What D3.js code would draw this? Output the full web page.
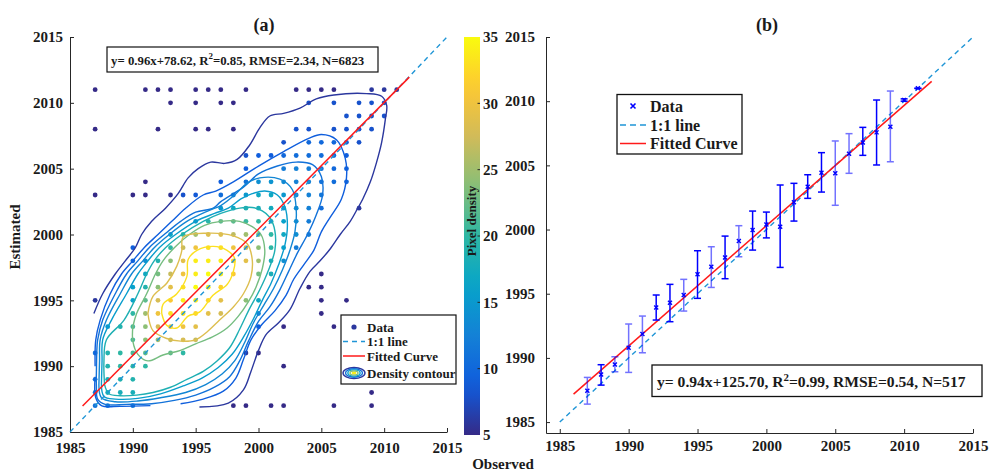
<!DOCTYPE html>
<html><head><meta charset="utf-8">
<script src="https://cdn.jsdelivr.net/npm/d3@7"></script>
<style>
body{margin:0;background:#fff}
svg text{font-family:"Liberation Serif","Times New Roman",serif;font-weight:bold;fill:#1a1a1a}
</style></head><body>
<svg id="chart" width="990" height="473"></svg>
<script>
// ---- data ----
const yearTicks = [1985, 1990, 1995, 2000, 2005, 2010, 2015];
const densityTicks = [5, 10, 15, 20, 25, 30, 35];

// (a) pixel pairs binned at whole years: [observed, estimated, pixel density]
const pixelPoints = [
  [1987,2011,5],[1991,2011,5],[1992,2011,5],[1993,2011,5],[1995,2011,5],[1996,2011,5],[1997,2011,5],[1999,2011,5],[2003,2011,5],[2004,2011,5],[2005,2011,5],[2006,2011,5],[2009,2011,6],[2010,2011,6],[2011,2011,6],
  [1993,2010,5],[1995,2010,5],[1997,2010,5],[1998,2010,5],[2004,2010,8],[2006,2010,8],[2008,2010,8],[2009,2010,8],[2010,2010,8],
  [2007,2009,8],[2008,2009,8],[2009,2009,8],[2010,2009,8],
  [1987,2008,5],[1992,2008,5],[1995,2008,5],[1996,2008,5],[1998,2008,5],[2003,2008,8],[2004,2008,8],[2006,2008,8],[2007,2008,8],[2008,2008,8],[2009,2008,8],
  [2002,2007,8],[2004,2007,10],[2005,2007,10],[2006,2007,10],[2007,2007,9],[2008,2007,8],
  [1999,2006,8],[2000,2006,9],[2001,2006,9],[2002,2006,10],[2003,2006,10.5],[2004,2006,10.5],[2005,2006,10.5],[2006,2006,10],[2007,2006,9],
  [1999,2005,9],[2002,2005,12],[2003,2005,12.5],[2004,2005,12],[2005,2005,11],[2006,2005,10],[2007,2005,9.5],
  [1991,2004,5],[1997,2004,9],[1999,2004,11],[2000,2004,14],[2001,2004,14.5],[2002,2004,13.5],[2003,2004,12.5],[2004,2004,12.5],[2005,2004,11],[2006,2004,10.5],[2007,2004,10],
  [1987,2003,5],[1990,2003,5],[1991,2003,5],[1993,2003,5.5],[1994,2003,8],[1995,2003,8.5],[1997,2003,10.5],[1998,2003,12.5],[1999,2003,15],[2000,2003,17],[2001,2003,17],[2002,2003,15],[2003,2003,13],[2004,2003,12.5],[2005,2003,11.5],
  [1997,2002,15],[1998,2002,17],[1999,2002,18.5],[2000,2002,18],[2001,2002,17.5],[2002,2002,16],[2003,2002,14],[2004,2002,12.5],[2005,2002,10.5],[2008,2002,6],
  [1995,2001,15],[1996,2001,19.5],[1997,2001,22],[1998,2001,22],[1999,2001,20.5],[2000,2001,20],[2001,2001,18.5],[2002,2001,16],[2003,2001,14],[2004,2001,12],
  [1993,2000,17],[1994,2000,20],[1995,2000,25],[1996,2000,28.5],[1997,2000,28.5],[1998,2000,26.5],[1999,2000,25],[2000,2000,23],[2001,2000,20],[2002,2000,17],[2003,2000,14],[2004,2000,12],
  [1990,1999,9],[1993,1999,20],[1994,1999,27],[1995,1999,30],[1996,1999,33],[1997,1999,33],[1998,1999,30],[1999,1999,27],[2000,1999,24],[2001,1999,20],[2002,1999,16],[2003,1999,12],
  [1990,1998,10],[1991,1998,14],[1992,1998,19],[1993,1998,24],[1994,1998,29],[1995,1998,34],[1996,1998,34],[1997,1998,34],[1998,1998,32],[1999,1998,29],[2000,1998,25],[2001,1998,18],[2002,1998,14],
  [1991,1997,17],[1992,1997,23],[1993,1997,27],[1994,1997,30],[1995,1997,34],[1996,1997,35],[1997,1997,34],[1998,1997,31],[2000,1997,23],[2001,1997,18],[2005,1997,5],
  [1990,1996,16],[1991,1996,19],[1992,1996,24],[1993,1996,29],[1994,1996,33],[1995,1996,35],[1996,1996,34],[1997,1996,32],[2004,1996,5],[2005,1996,5],
  [1987,1995,6],[1990,1995,16],[1991,1995,22],[1992,1995,28],[1993,1995,31],[1994,1995,34],[1995,1995,34],[1996,1995,32],[1997,1995,29],[1999,1995,24],[2000,1995,17],[2005,1995,5],[2007,1995,5],
  [1990,1994,20],[1991,1994,25],[1992,1994,30],[1993,1994,33],[1994,1994,33],[1995,1994,32],[1996,1994,29],[1997,1994,28],[2000,1994,13],[2005,1994,5],
  [1988,1993,15],[1989,1993,19],[1990,1993,21],[1991,1993,24],[1992,1993,28],[1993,1993,31],[1994,1993,30],[1995,1993,29],[2000,1993,9],[2002,1993,5],[2006,1993,5],
  [1990,1992,21],[1991,1992,24],[1992,1992,25],[1993,1992,27],[1994,1992,28],[1995,1992,27],
  [1987,1991,11],[1988,1991,19],[1989,1991,20],[1990,1991,21],[1991,1991,22],[1993,1991,22],[1994,1991,20],[1999,1991,6],[2000,1991,5],
  [1988,1990,19],[1989,1990,20],[1990,1990,20],[1991,1990,20],[2002,1990,5],
  [1987,1989,11],[1988,1989,18],[1989,1989,19],[1990,1989,19],
  [1987,1988,12],[1988,1988,18],[1989,1988,18],[1990,1988,18],[2009,1988,5],
  [1987,1987,11],[1988,1987,12],[1990,1987,12],[1998,1987,5],[1999,1987,5],[2001,1987,5],[2002,1987,5],[2006,1987,5],[2009,1987,5]
];

// density contour levels and their traced lines (each level: list of segments of [observed, estimated])
const contourLevels = [6, 9, 11, 13, 15.5, 18.5, 23, 28.5, 33];
const contourLines = [
  [[[1986.9,1994.0],[1987.6,1995.5],[1988.6,1997.0],[1989.4,1998.0],[1990.2,1999.0],[1990.7,2000.0],[1991.5,2001.0],[1992.6,2002.0],[1993.6,2003.1],[1994.4,2004.3],[1995.2,2005.0],[1996.2,2005.5],[1997.3,2005.4],[1998.3,2005.7],[1999.3,2006.8],[2000.1,2008.1],[2000.9,2009.0],[2002.0,2009.2],[2003.3,2009.6],[2004.6,2010.3],[2006.0,2010.6],[2008.6,2010.7],[2009.8,2010.5],[2010.2,2009.8],[2010.1,2008.8],[2009.8,2007.0],[2009.4,2005.5],[2008.9,2004.0],[2008.3,2002.7],[2007.9,2002.0],[2007.3,2001.0],[2006.5,2000.0],[2005.7,1998.9],[2004.9,1998.0],[2004.1,1997.2],[2003.3,1995.9],[2002.5,1994.3],[2001.6,1993.3],[2000.6,1992.4],[2000.0,1991.2],[1999.4,1989.6],[1998.8,1988.2],[1997.6,1987.2],[1995.3,1986.9]]],
  [[[1987.0,1990.0],[1987.05,1992.0],[1987.4,1993.5],[1988.2,1995.5],[1989.1,1997.0],[1990.0,1998.0],[1990.9,1999.0],[1992.0,2000.0],[1993.1,2001.0],[1994.2,2002.0],[1995.6,2003.0],[1996.6,2003.3],[1998.0,2004.0],[2000.0,2005.2],[2002.0,2006.3],[2004.0,2007.3],[2005.0,2007.6],[2006.2,2007.2],[2006.9,2005.8],[2007.0,2004.3],[2006.6,2002.7],[2005.7,2001.3],[2005.0,2000.2],[2004.4,1998.8],[2003.6,1997.7],[2002.8,1996.6],[2002.2,1995.4],[2001.3,1994.2],[2000.3,1993.2],[1999.4,1992.0],[1998.8,1990.5],[1998.2,1989.1],[1997.2,1988.1],[1995.6,1987.5],[1993.8,1987.15]],
   [[1987.0,1989.2],[1987.05,1987.6],[1987.5,1987.0],[1989.0,1986.95],[1991.4,1987.0]]],
  [[[1987.1,1989.5],[1987.15,1991.5],[1987.2,1992.0],[1987.6,1993.5],[1988.6,1995.5],[1989.5,1997.0],[1990.4,1998.0],[1991.3,1999.0],[1992.5,2000.0],[1993.8,2001.0],[1995.0,2001.7],[1996.4,2002.0],[1997.0,2002.5],[1998.8,2003.6],[2000.0,2004.6],[2001.5,2005.2],[2003.0,2005.5],[2004.3,2005.3],[2005.0,2004.4],[2005.1,2003.0],[2004.6,2001.5],[2003.9,2000.0],[2003.1,1998.6],[2002.4,1997.2],[2001.7,1995.8],[2000.9,1994.5],[2000.0,1993.4],[1999.2,1991.9],[1998.5,1990.4],[1997.7,1989.2],[1996.5,1988.4],[1995.0,1987.8],[1993.3,1987.4],[1991.5,1987.15],[1989.5,1987.1],[1987.8,1987.1],[1987.2,1987.5],[1987.1,1988.5],[1987.1,1989.5]]],
  [[[1987.3,1988.6],[1987.35,1990.4],[1987.4,1992.0],[1987.9,1993.5],[1989.0,1995.5],[1989.9,1997.0],[1990.8,1998.0],[1991.7,1999.0],[1992.9,2000.0],[1994.3,2001.0],[1996.0,2001.8],[1997.0,2002.2],[1998.1,2003.0],[1999.1,2003.9],[2000.1,2004.3],[2001.7,2004.2],[2002.7,2003.4],[2003.0,2001.9],[2002.9,2000.2],[2002.5,1998.8],[2001.9,1997.3],[2001.2,1995.9],[2000.4,1994.6],[1999.6,1993.3],[1998.9,1991.8],[1998.1,1990.4],[1997.1,1989.4],[1995.8,1988.6],[1994.2,1988.0],[1992.2,1987.6],[1990.4,1987.35],[1988.6,1987.3],[1987.5,1987.6],[1987.3,1988.6]]],
  [[[1987.5,1988.6],[1987.55,1990.4],[1987.6,1992.0],[1988.3,1993.5],[1989.5,1995.5],[1990.4,1997.0],[1991.2,1998.0],[1992.1,1999.0],[1993.4,2000.0],[1995.0,2001.0],[1996.5,2001.6],[1997.6,2002.0],[1998.6,2002.7],[1999.5,2003.1],[2000.5,2003.3],[2001.5,2003.0],[2002.1,2002.1],[2002.3,2000.7],[2002.1,1999.2],[2001.6,1997.7],[2001.0,1996.3],[2000.3,1995.0],[1999.6,1993.6],[1998.8,1992.2],[1997.9,1990.9],[1996.8,1989.9],[1995.5,1989.1],[1994.0,1988.5],[1992.2,1987.9],[1990.4,1987.55],[1988.6,1987.5],[1987.7,1987.7],[1987.5,1988.6]]],
  [[[1987.75,1988.6],[1987.7,1990.3],[1987.9,1992.0],[1989.3,1993.5],[1990.4,1995.5],[1991.1,1997.0],[1991.7,1998.0],[1992.6,1999.0],[1993.9,2000.0],[1995.6,2001.0],[1997.0,2001.6],[1998.5,2002.0],[1999.5,2002.05],[2000.3,2001.8],[2000.9,2001.3],[2001.3,2000.3],[2001.3,1998.8],[2000.8,1997.3],[2000.1,1995.8],[1999.2,1994.2],[1998.5,1992.8],[1997.7,1991.4],[1996.7,1990.4],[1995.6,1989.6],[1994.3,1989.0],[1993.0,1988.4],[1991.6,1988.0],[1990.3,1987.8],[1989.0,1987.75],[1988.1,1987.9],[1987.75,1988.6]]],
  [[[1990.0,1993.0],[1990.3,1994.0],[1991.1,1995.5],[1991.8,1997.0],[1992.4,1998.0],[1993.3,1999.0],[1994.5,2000.0],[1995.7,2000.7],[1997.0,2001.0],[1998.5,2001.0],[1999.5,2000.6],[2000.2,2000.0],[2000.5,1998.8],[2000.3,1997.4],[1999.8,1996.0],[1999.2,1994.9],[1998.4,1993.8],[1997.5,1992.9],[1996.3,1992.2],[1995.0,1991.7],[1993.8,1991.2],[1992.4,1990.85],[1991.2,1990.4],[1990.4,1990.9],[1990.0,1991.9],[1990.0,1993.0]]],
  [[[1991.2,1994.0],[1991.6,1995.3],[1992.7,1996.3],[1993.5,1997.6],[1993.9,1998.8],[1994.0,1999.8],[1995.9,2000.1],[1998.0,1999.9],[1999.1,1999.3],[1999.5,1998.1],[1999.4,1996.8],[1998.8,1995.5],[1998.0,1994.5],[1996.9,1993.5],[1995.9,1992.6],[1995.0,1992.0],[1993.8,1991.9],[1992.7,1992.1],[1991.6,1992.7],[1991.2,1994.0]]],
  [[[1992.3,1994.0],[1992.7,1993.1],[1993.5,1992.9],[1994.4,1993.8],[1995.3,1994.1],[1996.4,1995.4],[1997.5,1996.2],[1998.0,1997.2],[1998.1,1998.2],[1997.5,1998.8],[1996.4,1999.1],[1995.1,1998.8],[1994.4,1998.1],[1994.3,1996.8],[1993.5,1995.5],[1992.4,1994.7],[1992.3,1994.0]]]
];

const fitA = [0.9609, 78.62];          // slope, intercept
const fitRangeA = [1986, 2012];
const statsA = [0.85, 2.34, 6823];     // R2, RMSE, N

// (b) per observed year: mean estimate and spread
const obsYearsB = [1987,1988,1989,1990,1991,1992,1993,1994,1995,1996,1997,1998,1999,2000,2001,2002,2003,2004,2005,2006,2007,2008,2009,2010,2011];
const meanEstB  = [1987.44,1988.71,1989.49,1990.79,1991.86,1993.93,1994.30,1994.90,1996.51,1997.10,1997.83,1999.10,1999.96,2000.40,2000.22,2002.12,2003.34,2004.43,2004.38,2005.91,2006.79,2007.57,2008.01,2010.09,2011.00];
const lowEstB   = [1986.40,1987.88,1988.92,1988.87,1990.40,1992.95,1992.82,1993.65,1994.64,1995.49,1996.17,1997.88,1998.40,1999.35,1997.05,2000.66,2002.43,2002.92,2001.89,2004.38,2005.78,2005.03,2005.28,2010.00,2011.00];
const highEstB  = [1988.48,1989.47,1990.09,1992.64,1993.26,1994.90,1995.73,1996.12,1998.35,1998.66,1999.49,2000.30,2001.44,2001.36,2003.47,2003.60,2004.27,2005.99,2006.90,2007.47,2007.96,2010.09,2010.79,2010.18,2011.00];
const fitB = [0.9373, 125.70];
const fitRangeB = [1986, 2012];
const statsB = [0.99, 0.54, 517];

// ---- drawing ----
const svg = d3.select("#chart");
const parulaStops = ["#352a87","#0f5cdd","#1481d6","#06a4ca","#2eb7a4","#87bf77","#d1bb59","#fec832","#f9fb0e"];
const parula = d3.piecewise(d3.interpolateRgb, parulaStops);
const densityColor = d3.scaleSequential(parula).domain([5, 35]).clamp(true);
const axisColor = "#262626";
const oneToOneColor = "#1f95d6";
const f2 = d3.format(".2f");

function styleAxis(g) {
  g.attr("font-family", null).attr("font-size", null);
  g.selectAll("path.domain").attr("stroke", axisColor).attr("stroke-width", 1);
  g.selectAll(".tick line").attr("stroke", axisColor);
  g.selectAll(".tick text").attr("font-size", 15).attr("fill", "#1a1a1a");
}

function drawAxes(x, y, xPad, yPad) {
  const gx = svg.append("g").attr("transform", `translate(0,${y.range()[0]})`)
    .call(d3.axisBottom(x).tickValues(yearTicks).tickFormat(d3.format("d")).tickSizeInner(-4).tickSizeOuter(0).tickPadding(xPad));
  styleAxis(gx);
  const gy = svg.append("g").attr("transform", `translate(${x.range()[0]},0)`)
    .call(d3.axisLeft(y).tickValues(yearTicks).tickFormat(d3.format("d")).tickSizeInner(-4).tickSizeOuter(0).tickPadding(yPad));
  styleAxis(gy);
}

function statsLabel(g, x, y, fit, stats, size) {
  const t = g.append("text").attr("x", x).attr("y", y).attr("font-size", size);
  t.append("tspan").text(`y= ${f2(fit[0])}x+${f2(fit[1])}, R`);
  t.append("tspan").attr("font-size", size * 0.7).attr("dy", -size * 0.4).text("2");
  t.append("tspan").attr("dy", size * 0.4).text(`=${f2(stats[0])}, RMSE=${f2(stats[1])}, N=${stats[2]}`);
  return t;
}

// ===== panel (a) =====
const xA = d3.scaleLinear().domain([1985, 2015]).range([70, 447]);
const yA = d3.scaleLinear().domain([1985, 2015]).range([432, 37]);
drawAxes(xA, yA, 10, 7);

const pa = svg.append("g");
pa.selectAll("circle.px").data(pixelPoints).join("circle")
  .attr("cx", d => xA(d[0])).attr("cy", d => yA(d[1])).attr("r", 2.4)
  .attr("fill", d => densityColor(d[2]));

const contourPath = d3.line().x(d => xA(d[0])).y(d => yA(d[1])).curve(d3.curveCatmullRom.alpha(0.5));
contourLines.forEach((segs, i) => {
  segs.forEach(seg => {
    pa.append("path").attr("d", contourPath(seg)).attr("fill", "none")
      .attr("stroke", densityColor(contourLevels[i])).attr("stroke-width", 1.4);
  });
});

pa.append("line").attr("x1", xA(1985)).attr("y1", yA(1985)).attr("x2", xA(2015)).attr("y2", yA(2015))
  .attr("stroke", oneToOneColor).attr("stroke-width", 1.4).attr("stroke-dasharray", "5,4");
pa.append("line").attr("x1", xA(fitRangeA[0])).attr("y1", yA(fitA[0] * fitRangeA[0] + fitA[1]))
  .attr("x2", xA(fitRangeA[1])).attr("y2", yA(fitA[0] * fitRangeA[1] + fitA[1]))
  .attr("stroke", "#ff1a1a").attr("stroke-width", 1.5);

// stats box (a)
pa.append("rect").attr("x", 107).attr("y", 47).attr("width", 271).attr("height", 25)
  .attr("fill", "#fff").attr("stroke", "#111").attr("stroke-width", 1.2);
statsLabel(pa, 111, 64.5, fitA, statsA, 12.8);

// legend (a)
const la = svg.append("g");
la.append("rect").attr("x", 341).attr("y", 315).attr("width", 115).attr("height", 69)
  .attr("fill", "#fff").attr("stroke", "#111").attr("stroke-width", 1.2);
la.append("circle").attr("cx", 354).attr("cy", 327).attr("r", 2.6).attr("fill", densityColor(6));
la.append("line").attr("x1", 343).attr("x2", 365).attr("y1", 341.5).attr("y2", 341.5)
  .attr("stroke", oneToOneColor).attr("stroke-width", 1.4).attr("stroke-dasharray", "5,4");
la.append("line").attr("x1", 343).attr("x2", 365).attr("y1", 356).attr("y2", 356)
  .attr("stroke", "#ff1a1a").attr("stroke-width", 1.5);
[[11, 5.5, 6], [8.5, 4.2, 11], [6.2, 3.1, 16], [4, 2, 24]].forEach(([rx, ry, lv]) => {
  la.append("ellipse").attr("cx", 354).attr("cy", 373).attr("rx", rx).attr("ry", ry)
    .attr("fill", "none").attr("stroke", densityColor(lv)).attr("stroke-width", 1.4);
});
la.append("ellipse").attr("cx", 354).attr("cy", 373).attr("rx", 2.4).attr("ry", 1.2).attr("fill", densityColor(34));
["Data", "1:1 line", "Fitted Curve", "Density contour"].forEach((s, i) => {
  la.append("text").attr("x", 367).attr("y", [331.5, 346, 360.5, 377.5][i]).attr("font-size", 13).text(s);
});

// colorbar
const cb = svg.append("g");
const cbY = d3.scaleLinear().domain([5, 35]).range([435, 37]);
const grad = svg.append("defs").append("linearGradient").attr("id", "parulaGrad")
  .attr("x1", 0).attr("y1", 1).attr("x2", 0).attr("y2", 0);
d3.range(0, 1.0001, 0.05).forEach(t => grad.append("stop").attr("offset", t).attr("stop-color", parula(t)));
cb.append("rect").attr("x", 464).attr("y", cbY(35)).attr("width", 16).attr("height", cbY(5) - cbY(35))
  .attr("fill", "url(#parulaGrad)");
densityTicks.forEach(v => {
  if (v > 5 && v < 35) cb.append("line").attr("x1", 477.5).attr("x2", 480).attr("y1", cbY(v)).attr("y2", cbY(v))
    .attr("stroke", axisColor).attr("stroke-width", 1);
  cb.append("text").attr("x", 483).attr("y", cbY(v)).attr("dy", "0.35em").attr("font-size", 15).text(v);
});
cb.append("text").attr("transform", "translate(476,221) rotate(-90)").attr("text-anchor", "middle")
  .attr("font-size", 13).text("Pixel density");

// titles and axis names
svg.append("text").attr("x", 264).attr("y", 31).attr("text-anchor", "middle").attr("font-size", 18).text("(a)");
svg.append("text").attr("x", 767).attr("y", 31).attr("text-anchor", "middle").attr("font-size", 18).text("(b)");
svg.append("text").attr("transform", "translate(20,237) rotate(-90)").attr("text-anchor", "middle")
  .attr("font-size", 15).text("Estimated");
svg.append("text").attr("x", 503).attr("y", 469).attr("text-anchor", "middle").attr("font-size", 15).text("Observed");

// ===== panel (b) =====
const xB = d3.scaleLinear().domain([1984, 2015]).range([546, 973]);
const yB = d3.scaleLinear().domain([1984.15, 2015]).range([433, 37]);
drawAxes(xB, yB, 7, 11);

const pb = svg.append("g");
pb.append("line").attr("x1", xB(1985)).attr("y1", yB(1985)).attr("x2", xB(2015)).attr("y2", yB(2015))
  .attr("stroke", oneToOneColor).attr("stroke-width", 1.4).attr("stroke-dasharray", "5,4");
pb.append("line").attr("x1", xB(fitRangeB[0])).attr("y1", yB(fitB[0] * fitRangeB[0] + fitB[1]))
  .attr("x2", xB(fitRangeB[1])).attr("y2", yB(fitB[0] * fitRangeB[1] + fitB[1]))
  .attr("stroke", "#ff1a1a").attr("stroke-width", 1.5);

const faintYears = new Set([1987, 1989, 1990, 1991, 1994, 1996, 1998, 2005, 2006, 2009]);
obsYearsB.forEach((yr, i) => {
  const g = pb.append("g").attr("stroke", "#0000ff").attr("opacity", faintYears.has(yr) ? 0.55 : 1)
    .attr("stroke-width", 1.5);
  const cx = xB(yr);
  g.append("line").attr("x1", cx).attr("x2", cx).attr("y1", yB(lowEstB[i])).attr("y2", yB(highEstB[i]));
  [lowEstB[i], highEstB[i]].forEach(v => g.append("line").attr("x1", cx - 3.5).attr("x2", cx + 3.5)
    .attr("y1", yB(v)).attr("y2", yB(v)));
  const my = yB(meanEstB[i]);
  pb.append("path").attr("d", `M${cx - 2},${my - 2}L${cx + 2},${my + 2}M${cx - 2},${my + 2}L${cx + 2},${my - 2}`)
    .attr("stroke", "#0000ff").attr("stroke-width", 1.4);
});

// legend (b)
const lb = svg.append("g");
lb.append("rect").attr("x", 617).attr("y", 94.5).attr("width", 125).attr("height", 59.5)
  .attr("fill", "#fff").attr("stroke", "#111").attr("stroke-width", 1.3);
lb.append("path").attr("d", "M630.5,103.5L635.5,108.5M630.5,108.5L635.5,103.5").attr("stroke", "#0000ff").attr("stroke-width", 1.6);
lb.append("line").attr("x1", 620).attr("x2", 646).attr("y1", 125).attr("y2", 125)
  .attr("stroke", oneToOneColor).attr("stroke-width", 1.5).attr("stroke-dasharray", "6,4");
lb.append("line").attr("x1", 620).attr("x2", 646).attr("y1", 143.5).attr("y2", 143.5)
  .attr("stroke", "#ff1a1a").attr("stroke-width", 1.5);
["Data", "1:1 line", "Fitted Curve"].forEach((s, i) => {
  lb.append("text").attr("x", 650).attr("y", [111.5, 130.5, 149][i]).attr("font-size", 16).text(s);
});

// stats box (b)
pb.append("rect").attr("x", 652).attr("y", 365).attr("width", 330).attr("height", 31.5)
  .attr("fill", "#fff").attr("stroke", "#111").attr("stroke-width", 1.3);
statsLabel(pb, 657, 387, fitB, statsB, 15.6);
</script>
</body></html>
